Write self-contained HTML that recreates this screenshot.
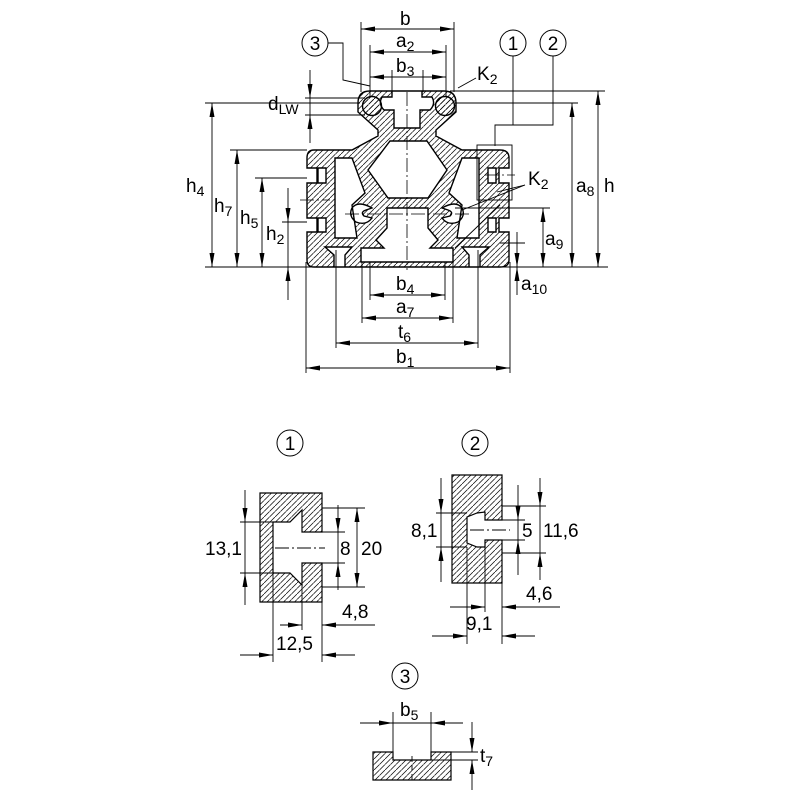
<!DOCTYPE html>
<html><head><meta charset="utf-8"><style>
html,body{margin:0;padding:0;background:#fff;}
svg{display:block;}
text{font-family:"Liberation Sans",sans-serif;font-size:19px;fill:#000;}
.s{font-size:14px;}
</style></head><body>
<svg width="800" height="800" viewBox="0 0 800 800" xmlns="http://www.w3.org/2000/svg">
<defs>
<pattern id="h" width="5.5" height="5.5" patternUnits="userSpaceOnUse">
<line x1="0" y1="5.5" x2="5.5" y2="0" stroke="#000" stroke-width="0.7"/>
</pattern>
<marker id="b" viewBox="0 0 14 6" refX="14" refY="3" markerWidth="14" markerHeight="6" orient="auto-start-reverse" markerUnits="userSpaceOnUse"><path d="M0,0.5 L14,3 L0,5.5 Z" fill="#000"/></marker>
</defs>

<!-- MAIN PROFILE -->
<g stroke="#000" stroke-width="1.4">
<path fill="url(#h)" fill-rule="evenodd" d="
M370,91 L444,91 Q456,91 456,103 L456,112 L436,130 L436,136 L462,150 L500,150 Q509,150 509,158 L509,168 L499,168 L499,183 L509,183 L509,218 L499,218 L499,232 L509,232 L509,260 Q509,267 500,267 L314,267 Q307,267 307,260 L307,232 L317,232 L317,218 L307,218 L307,183 L317,183 L317,168 L307,168 L307,158 Q307,150 314,150 L352,150 L378,136 L378,130 L358,112 L358,103 Q358,91 370,91 Z
M392,91 L392,97 L382,97 Q378,104 384,110 L394,110 L394,128 L420,128 L420,110 L430,110 Q436,104 432,97 L422,97 L422,91 Z
M390,141 L427,141 L447,170 L428,198 L388,198 L368,170 Z
M335,158 L352,158 L365,193 L352,205 L357,238 L335,238 Z
M479,158 L462,158 L449,193 L462,205 L457,238 L479,238 Z
M318,168 L326,168 L326,183 L318,183 Z
M488,168 L496,168 L496,183 L488,183 Z
M318,218 L326,218 L326,232 L318,232 Z
M488,218 L496,218 L496,232 L488,232 Z
M387,208 L428,208 L428,228 L438,240 L430,248 L453,248 L453,262 L361,262 L361,248 L384,248 L376,240 L387,228 Z
M325,247 L352,247 L345,255 L345,267 L334,267 L334,255 Z
M489,247 L462,247 L469,255 L469,267 L480,267 L480,255 Z
M372,208 Q358,200 352,208 Q348,216 356,222 Q366,226 372,218 L364,216 Q360,212 366,210 Z
M442,208 Q456,200 462,208 Q466,216 458,222 Q448,226 442,218 L450,216 Q454,212 448,210 Z
"/>
<circle cx="372" cy="106" r="9.5" fill="url(#h)"/>
<circle cx="445" cy="106" r="9.5" fill="url(#h)"/>
</g>
<g stroke="#000" stroke-width="0.8" stroke-dasharray="14,3,2,3" fill="none">
<line x1="407" y1="92" x2="407" y2="270"/>
<line x1="300" y1="200" x2="330" y2="200"/>
<line x1="485" y1="175" x2="515" y2="175"/>
<line x1="345" y1="214" x2="470" y2="214"/>
</g>
<g stroke="#000" stroke-width="0.9" fill="none">
<line x1="205" y1="267" x2="608" y2="267"/>
<line x1="205" y1="103" x2="360" y2="103"/>
<line x1="455" y1="103" x2="578" y2="103"/>
<line x1="450" y1="91" x2="605" y2="91"/>
<line x1="230" y1="150" x2="307" y2="150"/>
<line x1="255" y1="178" x2="307" y2="178"/>
<line x1="282" y1="222" x2="307" y2="222"/>
<line x1="305" y1="98" x2="365" y2="98"/>
<line x1="305" y1="115" x2="365" y2="115"/>
<line x1="455" y1="208" x2="550" y2="208"/>
<line x1="500" y1="243" x2="525" y2="243"/>
<line x1="361" y1="22" x2="361" y2="92"/><line x1="454" y1="22" x2="454" y2="92"/>
<line x1="370" y1="45" x2="370" y2="96"/><line x1="446" y1="45" x2="446" y2="96"/>
<line x1="392" y1="70" x2="392" y2="92"/><line x1="423" y1="70" x2="423" y2="92"/>
<line x1="370" y1="262" x2="370" y2="300"/><line x1="445" y1="262" x2="445" y2="300"/>
<line x1="362" y1="262" x2="362" y2="323"/><line x1="453" y1="262" x2="453" y2="323"/>
<line x1="336" y1="250" x2="336" y2="348"/><line x1="478" y1="250" x2="478" y2="348"/>
<line x1="306" y1="262" x2="306" y2="373"/><line x1="510" y1="262" x2="510" y2="373"/>
<polyline points="328,43 343,43 343,80 370,86"/>
<polyline points="513,56 513,125 495,125 495,146"/>
<polyline points="553,56 553,125 495,125"/>
<line x1="458" y1="88" x2="476" y2="78"/>
<line x1="462" y1="210" x2="525" y2="185"/>
<line x1="497" y1="192" x2="525" y2="185"/>
<line x1="455" y1="248" x2="500" y2="205"/>
<rect x="477" y="145" width="35" height="55"/>
</g>
<g stroke="#000" stroke-width="0.9" fill="none" marker-start="url(#b)" marker-end="url(#b)">
<line x1="361" y1="29" x2="454" y2="29"/>
<line x1="370" y1="52" x2="446" y2="52"/>
<line x1="370" y1="77" x2="446" y2="77"/>
<line x1="370" y1="295" x2="445" y2="295"/>
<line x1="362" y1="318" x2="453" y2="318"/>
<line x1="336" y1="343" x2="478" y2="343"/>
<line x1="306" y1="368" x2="510" y2="368"/>
<line x1="212" y1="103" x2="212" y2="267"/>
<line x1="237" y1="150" x2="237" y2="267"/>
<line x1="262" y1="178" x2="262" y2="267"/>
<line x1="572" y1="103" x2="572" y2="267"/>
<line x1="598" y1="91" x2="598" y2="267"/>
<line x1="543" y1="208" x2="543" y2="267"/>
</g>
<g stroke="#000" stroke-width="0.9" fill="none" marker-end="url(#b)">
<line x1="288" y1="188" x2="288" y2="222"/>
<line x1="288" y1="300" x2="288" y2="267"/>
<line x1="310" y1="70" x2="310" y2="98"/>
<line x1="310" y1="143" x2="310" y2="115"/>
<line x1="517" y1="232" x2="517" y2="267"/>
<line x1="517" y1="295" x2="517" y2="267"/>
</g>
<line x1="288" y1="222" x2="288" y2="267" stroke="#000" stroke-width="0.9"/>
<line x1="310" y1="98" x2="310" y2="115" stroke="#000" stroke-width="0.9"/>
<g fill="none" stroke="#000" stroke-width="1">
<circle cx="315" cy="43" r="13"/><circle cx="513" cy="43" r="13"/><circle cx="553" cy="43" r="13"/>
<circle cx="290" cy="443" r="13"/><circle cx="475" cy="443" r="13"/><circle cx="405" cy="676" r="13"/>
</g>
<text x="315" y="50" text-anchor="middle">3</text>
<text x="513" y="50" text-anchor="middle">1</text>
<text x="553" y="50" text-anchor="middle">2</text>
<text x="290" y="450" text-anchor="middle">1</text>
<text x="475" y="450" text-anchor="middle">2</text>
<text x="405" y="683" text-anchor="middle">3</text>
<text x="400" y="25">b</text>
<text x="396" y="47">a<tspan class="s" dy="4">2</tspan></text>
<text x="396" y="72">b<tspan class="s" dy="4">3</tspan></text>
<text x="477" y="80">K<tspan class="s" dy="4">2</tspan></text>
<text x="268" y="110">d<tspan class="s" dy="4">LW</tspan></text>
<text x="186" y="192">h<tspan class="s" dy="4">4</tspan></text>
<text x="214" y="212">h<tspan class="s" dy="4">7</tspan></text>
<text x="240" y="224">h<tspan class="s" dy="4">5</tspan></text>
<text x="266" y="240">h<tspan class="s" dy="4">2</tspan></text>
<text x="528" y="185">K<tspan class="s" dy="4">2</tspan></text>
<text x="576" y="192">a<tspan class="s" dy="4">8</tspan></text>
<text x="604" y="192">h</text>
<text x="545" y="245">a<tspan class="s" dy="4">9</tspan></text>
<text x="521" y="290">a<tspan class="s" dy="4">10</tspan></text>
<text x="396" y="290">b<tspan class="s" dy="4">4</tspan></text>
<text x="396" y="313">a<tspan class="s" dy="4">7</tspan></text>
<text x="398" y="338">t<tspan class="s" dy="4">6</tspan></text>
<text x="396" y="363">b<tspan class="s" dy="4">1</tspan></text>

<!-- DETAIL 1 -->
<path fill="url(#h)" stroke="#000" stroke-width="1.2" d="M260,493 L322,493 L322,532 L302,532 L302,510 L290,522 L273,522 L273,573 L290,573 L302,585 L302,563 L322,563 L322,602 L260,602 Z"/>
<g stroke="#000" stroke-width="0.9" fill="none">
<line x1="275" y1="548" x2="325" y2="548" stroke-dasharray="14,3,2,3"/>
<line x1="240" y1="522" x2="273" y2="522"/><line x1="240" y1="573" x2="273" y2="573"/>
<line x1="302" y1="532" x2="345" y2="532"/><line x1="302" y1="563" x2="345" y2="563"/>
<line x1="322" y1="508" x2="365" y2="508"/><line x1="322" y1="587" x2="365" y2="587"/>
<line x1="273" y1="573" x2="273" y2="662"/><line x1="302" y1="585" x2="302" y2="630"/><line x1="322" y1="602" x2="322" y2="662"/>
</g>
<g stroke="#000" stroke-width="0.9" fill="none" marker-end="url(#b)">
<line x1="245" y1="490" x2="245" y2="522"/><line x1="245" y1="605" x2="245" y2="573"/>
<line x1="338" y1="505" x2="338" y2="532"/><line x1="338" y1="590" x2="338" y2="563"/>
<line x1="280" y1="625" x2="302" y2="625"/><line x1="345" y1="625" x2="322" y2="625"/>
<line x1="240" y1="655" x2="273" y2="655"/><line x1="355" y1="655" x2="322" y2="655"/>
</g>
<line x1="245" y1="522" x2="245" y2="573" stroke="#000" stroke-width="0.9"/>
<line x1="338" y1="532" x2="338" y2="563" stroke="#000" stroke-width="0.9"/>
<line x1="322" y1="625" x2="375" y2="625" stroke="#000" stroke-width="0.9"/>
<line x1="357" y1="508" x2="357" y2="587" stroke="#000" stroke-width="0.9" marker-start="url(#b)" marker-end="url(#b)"/>
<text x="205" y="555">13,1</text>
<text x="340" y="555">8</text>
<text x="361" y="555">20</text>
<text x="342" y="618">4,8</text>
<text x="276" y="650">12,5</text>

<!-- DETAIL 2 -->
<path fill="url(#h)" stroke="#000" stroke-width="1.2" d="M452,475 L502,475 L502,520 L485,520 L485,512 L477,513 L467,517 L467,543 L477,547 L485,547 L485,540 L502,540 L502,583 L452,583 Z"/>
<g stroke="#000" stroke-width="0.9" fill="none">
<line x1="470" y1="530" x2="510" y2="530" stroke-dasharray="14,3,2,3"/>
<line x1="436" y1="513" x2="467" y2="513"/><line x1="436" y1="547" x2="467" y2="547"/>
<line x1="485" y1="520" x2="525" y2="520"/><line x1="485" y1="540" x2="525" y2="540"/>
<line x1="502" y1="506" x2="546" y2="506"/><line x1="502" y1="553" x2="546" y2="553"/>
<line x1="467" y1="547" x2="467" y2="644"/><line x1="485" y1="547" x2="485" y2="612"/><line x1="502" y1="583" x2="502" y2="644"/>
</g>
<g stroke="#000" stroke-width="0.9" fill="none" marker-end="url(#b)">
<line x1="441" y1="478" x2="441" y2="513"/><line x1="441" y1="582" x2="441" y2="547"/>
<line x1="518" y1="485" x2="518" y2="520"/><line x1="518" y1="575" x2="518" y2="540"/>
<line x1="540" y1="478" x2="540" y2="506"/><line x1="540" y1="580" x2="540" y2="553"/>
<line x1="450" y1="607" x2="485" y2="607"/><line x1="525" y1="607" x2="502" y2="607"/>
<line x1="432" y1="636" x2="467" y2="636"/><line x1="535" y1="636" x2="502" y2="636"/>
</g>
<line x1="441" y1="513" x2="441" y2="547" stroke="#000" stroke-width="0.9"/>
<line x1="518" y1="520" x2="518" y2="540" stroke="#000" stroke-width="0.9"/>
<line x1="540" y1="506" x2="540" y2="553" stroke="#000" stroke-width="0.9"/>
<line x1="502" y1="607" x2="560" y2="607" stroke="#000" stroke-width="0.9"/>
<text x="411" y="537">8,1</text>
<text x="522" y="537">5</text>
<text x="543" y="537">11,6</text>
<text x="526" y="600">4,6</text>
<text x="466" y="630">9,1</text>

<!-- DETAIL 3 -->
<path fill="url(#h)" stroke="#000" stroke-width="1.2" d="M373,752 L393,752 L393,760 L431,760 L431,752 L451,752 L451,780 L373,780 Z"/>
<g stroke="#000" stroke-width="0.9" fill="none">
<line x1="393" y1="712" x2="393" y2="760"/><line x1="431" y1="712" x2="431" y2="760"/>
<line x1="412" y1="756" x2="412" y2="780" stroke-dasharray="6,3"/>
<line x1="451" y1="752" x2="478" y2="752"/><line x1="431" y1="760" x2="478" y2="760"/>
</g>
<g stroke="#000" stroke-width="0.9" fill="none" marker-end="url(#b)">
<line x1="360" y1="723" x2="393" y2="723"/><line x1="463" y1="723" x2="431" y2="723"/>
<line x1="472" y1="722" x2="472" y2="752"/><line x1="472" y1="790" x2="472" y2="760"/>
</g>
<line x1="393" y1="723" x2="431" y2="723" stroke="#000" stroke-width="0.9"/>
<text x="400" y="716">b<tspan class="s" dy="4">5</tspan></text>
<text x="480" y="762">t<tspan class="s" dy="4">7</tspan></text>
</svg>
</body></html>
